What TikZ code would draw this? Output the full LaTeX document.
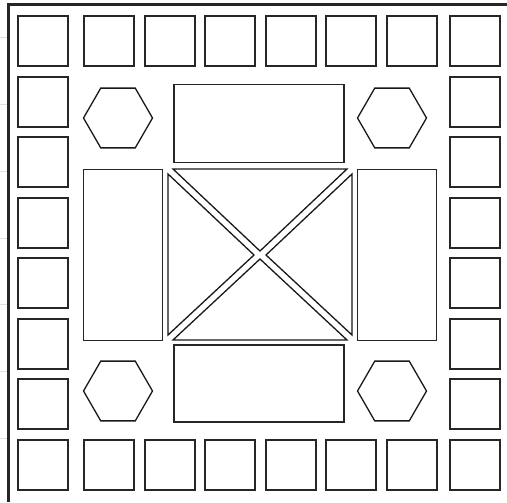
\documentclass[tikz,border=0pt]{standalone}
\usetikzlibrary{shapes.geometric}
\tikzset{
  tile/.style={draw=black!85, line width=1pt, minimum size=25pt, inner sep=0pt},
  hexa/.style={regular polygon, regular polygon sides=6, draw=black!90,
               line width=0.65pt, minimum size=34.5pt, inner sep=0pt},
  slab/.style={draw=black!85, line width=0.75pt, inner sep=0pt},
  wedge/.style={draw=black!90, line width=0.65pt, line join=miter},
  frame/.style={line width=1.5pt, black!85},
  rule/.style={black!12, line width=0.5pt}
}
\begin{document}
\begin{tikzpicture}[x=0.5pt, y=-0.5pt]
\useasboundingbox (0,0) rectangle (507,502);
% faint ruling in the left margin
\foreach \k in {0,...,6}
  \draw[rule] (0,{38+66.7*\k}) -- (7,{38+66.7*\k});
\draw[frame] (8,502) -- (8,5) -- (507,5);
% border tiles
\foreach \r in {0,...,7} {
  \node[tile] (w-\r) at (43,{41+60.57*\r}) {};
  \node[tile] (e-\r) at (475,{41+60.57*\r}) {};
}
\foreach \c in {0,...,5} {
  \node[tile] (n-\c) at ({109+60.6*\c},41) {};
  \node[tile] (s-\c) at ({109+60.6*\c},465) {};
}
% hexagons
\node[hexa] (hex-nw) at (118,118) {};
\node[hexa] (hex-ne) at (392,118) {};
\node[hexa] (hex-sw) at (118,391) {};
\node[hexa] (hex-se) at (392,391) {};
% slabs round the centre
\node[slab, minimum width=85pt, minimum height=39pt] (slab-n) at (259,123.5) {};
\node[slab, minimum width=85pt, minimum height=38.5pt] (slab-s) at (259,383.5) {};
\node[slab, minimum width=39.5pt, minimum height=85.5pt] (slab-w) at (123,255) {};
\node[slab, minimum width=39.5pt, minimum height=85.5pt] (slab-e) at (397,255) {};
% centre wedges
\draw[wedge] (173,169) -- (347,169) -- (260,251) -- cycle;
\draw[wedge] (173,340) -- (347,340) -- (260,259) -- cycle;
\draw[wedge] (168,174) -- (168,335) -- (254,255) -- cycle;
\draw[wedge] (352,174) -- (352,335) -- (266,255) -- cycle;
\end{tikzpicture}
\end{document}
